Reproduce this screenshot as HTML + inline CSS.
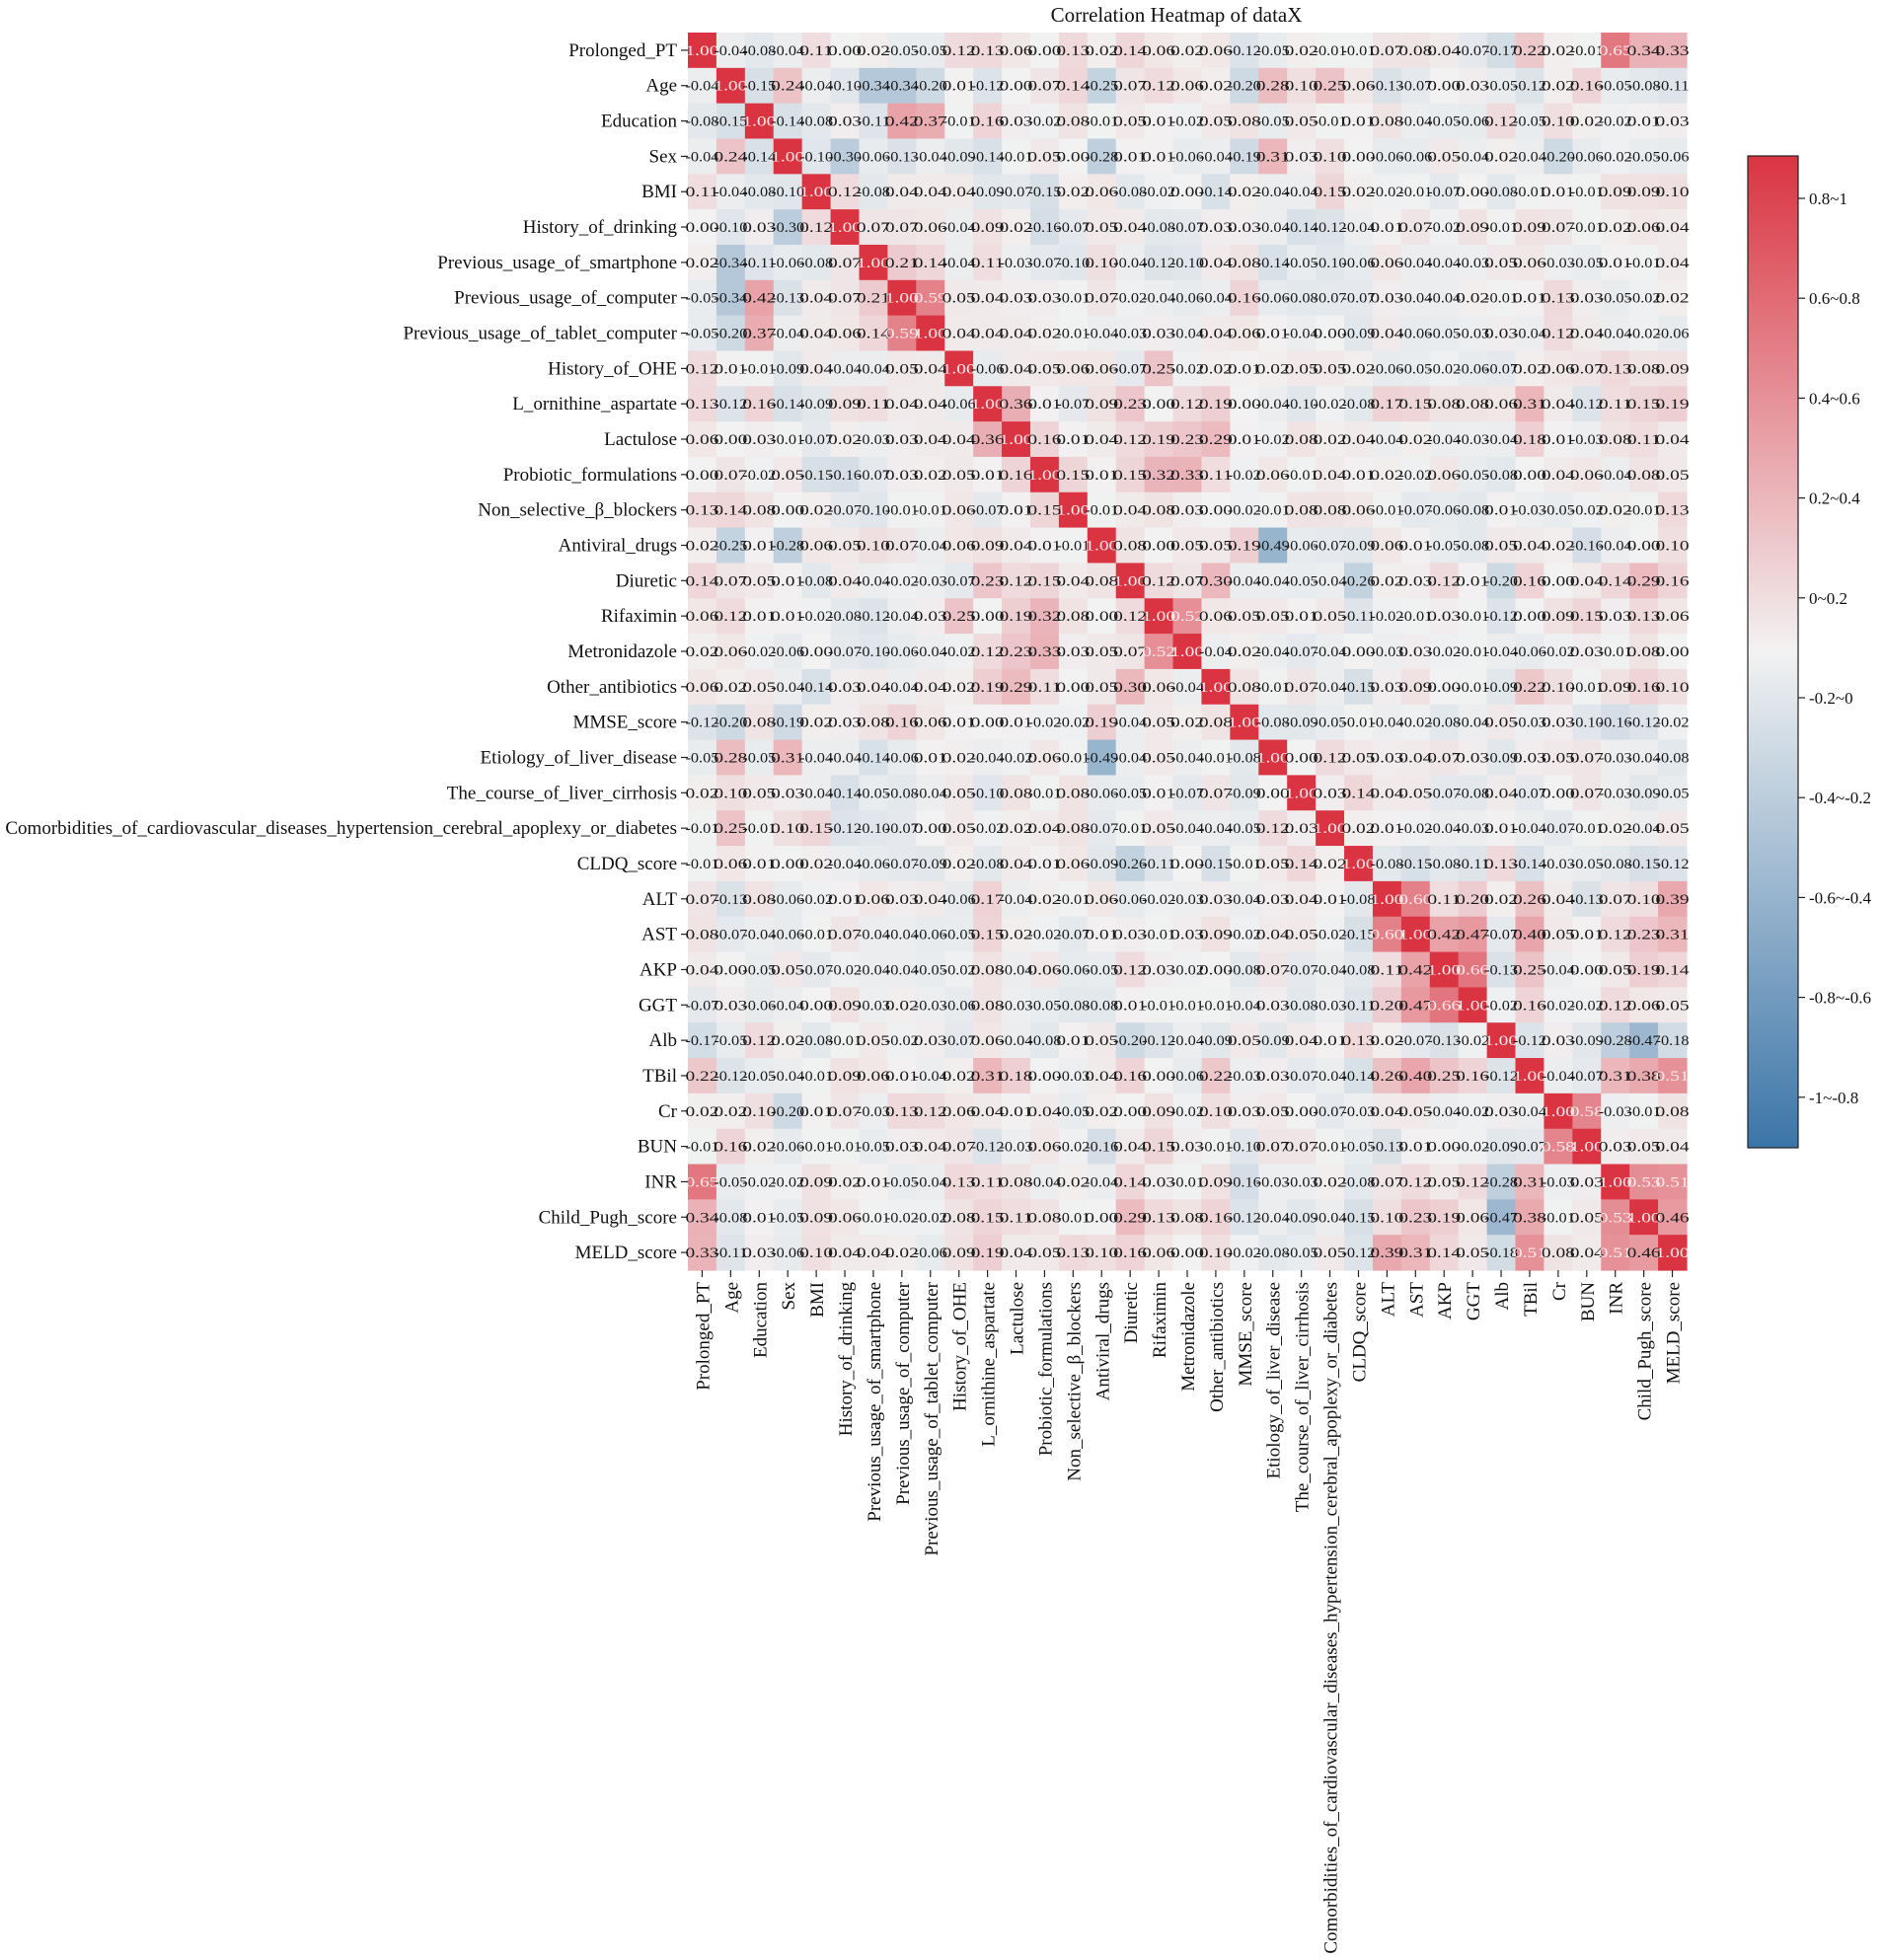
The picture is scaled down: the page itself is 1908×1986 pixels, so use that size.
<!DOCTYPE html>
<html><head><meta charset="utf-8">
<style>
html,body{margin:0;padding:0;background:#fff;}
svg{display:block;font-family:"Liberation Serif",serif;}
</style></head>
<body>
<svg id="chart" width="1908" height="1986" viewBox="0 0 1908 1986" xmlns="http://www.w3.org/2000/svg">
<defs>
<linearGradient id="cbgrad" x1="0" y1="0" x2="0" y2="1">
<stop offset="0" stop-color="rgb(218,52,66)"/>
<stop offset="0.5" stop-color="rgb(242,242,242)"/>
<stop offset="1" stop-color="rgb(59,117,168)"/>
</linearGradient>
</defs>
<text x="1192" y="22" font-size="21" text-anchor="middle" fill="#111">Correlation Heatmap of dataX</text>
<g id="cells"></g>
<g id="rowlabels"></g>
<g id="collabels"></g>
<g id="colorbar">
<rect x="1771" y="158" width="51" height="1005" fill="url(#cbgrad)" stroke="#222" stroke-width="1.2"/>
</g>
</svg>
<script>
const variables = ["Prolonged_PT","Age","Education","Sex","BMI","History_of_drinking","Previous_usage_of_smartphone","Previous_usage_of_computer","Previous_usage_of_tablet_computer","History_of_OHE","L_ornithine_aspartate","Lactulose","Probiotic_formulations","Non_selective_β_blockers","Antiviral_drugs","Diuretic","Rifaximin","Metronidazole","Other_antibiotics","MMSE_score","Etiology_of_liver_disease","The_course_of_liver_cirrhosis","Comorbidities_of_cardiovascular_diseases_hypertension_cerebral_apoplexy_or_diabetes","CLDQ_score","ALT","AST","AKP","GGT","Alb","TBil","Cr","BUN","INR","Child_Pugh_score","MELD_score"];
const colorbarTicks = ["0.8~1","0.6~0.8","0.4~0.6","0.2~0.4","0~0.2","-0.2~0","-0.4~-0.2","-0.6~-0.4","-0.8~-0.6","-1~-0.8"];
const corr = [
[1.00,-0.04,-0.08,-0.04,0.11,0.00,0.02,-0.05,-0.05,0.12,0.13,0.06,0.00,0.13,0.02,0.14,0.06,0.02,0.06,-0.12,-0.05,0.02,-0.01,-0.01,0.07,0.08,0.04,-0.07,-0.17,0.22,0.02,-0.01,0.65,0.34,0.33],
[-0.04,1.00,-0.15,0.24,-0.04,-0.10,-0.34,-0.34,-0.20,0.01,-0.12,0.00,0.07,0.14,-0.25,0.07,0.12,0.06,0.02,-0.20,0.28,0.10,0.25,0.06,-0.13,-0.07,0.00,0.03,-0.05,-0.12,0.02,0.16,-0.05,-0.08,-0.11],
[-0.08,-0.15,1.00,-0.14,-0.08,0.03,-0.11,0.42,0.37,-0.01,0.16,0.03,-0.02,0.08,-0.01,0.05,0.01,-0.02,0.05,0.08,-0.05,0.05,-0.01,0.01,0.08,-0.04,-0.05,-0.06,0.12,-0.05,0.10,0.02,-0.02,0.01,0.03],
[-0.04,0.24,-0.14,1.00,-0.10,-0.30,-0.06,-0.13,-0.04,-0.09,-0.14,-0.01,0.05,0.00,-0.28,0.01,0.01,-0.06,-0.04,-0.19,0.31,0.03,0.10,0.00,-0.06,-0.06,0.05,-0.04,0.02,-0.04,-0.20,-0.06,-0.02,-0.05,-0.06],
[0.11,-0.04,-0.08,-0.10,1.00,0.12,-0.08,0.04,0.04,0.04,-0.09,-0.07,-0.15,0.02,0.06,-0.08,-0.02,0.00,-0.14,0.02,-0.04,-0.04,0.15,0.02,-0.02,-0.01,-0.07,0.00,-0.08,-0.01,0.01,-0.01,0.09,0.09,0.10],
[0.00,-0.10,0.03,-0.30,0.12,1.00,0.07,0.07,0.06,-0.04,0.09,0.02,-0.16,-0.07,0.05,0.04,-0.08,-0.07,0.03,0.03,-0.04,-0.14,-0.12,-0.04,0.01,0.07,-0.02,0.09,-0.01,0.09,0.07,-0.01,0.02,0.06,0.04],
[0.02,-0.34,-0.11,-0.06,-0.08,0.07,1.00,0.21,0.14,-0.04,0.11,-0.03,-0.07,-0.10,0.10,-0.04,-0.12,-0.10,0.04,0.08,-0.14,-0.05,-0.10,-0.06,0.06,-0.04,-0.04,-0.03,0.05,0.06,-0.03,-0.05,0.01,-0.01,0.04],
[-0.05,-0.34,0.42,-0.13,0.04,0.07,0.21,1.00,0.59,0.05,0.04,0.03,0.03,-0.01,0.07,-0.02,-0.04,-0.06,-0.04,0.16,-0.06,-0.08,-0.07,-0.07,0.03,-0.04,-0.04,0.02,-0.01,0.01,0.13,0.03,-0.05,-0.02,0.02],
[-0.05,-0.20,0.37,-0.04,0.04,0.06,0.14,0.59,1.00,0.04,0.04,0.04,0.02,-0.01,-0.04,-0.03,0.03,-0.04,0.04,0.06,0.01,-0.04,0.00,-0.09,0.04,-0.06,-0.05,-0.03,0.03,-0.04,0.12,0.04,-0.04,-0.02,-0.06],
[0.12,0.01,-0.01,-0.09,0.04,-0.04,-0.04,0.05,0.04,1.00,-0.06,0.04,0.05,0.06,0.06,-0.07,0.25,-0.02,0.02,0.01,0.02,0.05,0.05,0.02,-0.06,-0.05,-0.02,-0.06,-0.07,0.02,0.06,0.07,0.13,0.08,0.09],
[0.13,-0.12,0.16,-0.14,-0.09,0.09,0.11,0.04,0.04,-0.06,1.00,0.36,0.01,-0.07,0.09,0.23,0.00,0.12,0.19,-0.00,-0.04,-0.10,-0.02,-0.08,0.17,0.15,0.08,0.08,0.06,0.31,0.04,-0.12,0.11,0.15,0.19],
[0.06,0.00,0.03,-0.01,-0.07,0.02,-0.03,0.03,0.04,0.04,0.36,1.00,0.16,0.01,0.04,0.12,0.19,0.23,0.29,0.01,-0.02,0.08,0.02,0.04,-0.04,0.02,-0.04,-0.03,-0.04,0.18,0.01,-0.03,0.08,0.11,0.04],
[0.00,0.07,-0.02,0.05,-0.15,-0.16,-0.07,0.03,0.02,0.05,0.01,0.16,1.00,0.15,0.01,0.15,0.32,0.33,0.11,-0.02,0.06,-0.01,0.04,0.01,0.02,-0.02,0.06,-0.05,-0.08,0.00,0.04,0.06,-0.04,0.08,0.05],
[0.13,0.14,0.08,0.00,0.02,-0.07,-0.10,-0.01,-0.01,0.06,-0.07,0.01,0.15,1.00,-0.01,0.04,0.08,0.03,0.00,-0.02,-0.01,0.08,0.08,0.06,-0.01,-0.07,-0.06,-0.08,0.01,-0.03,-0.05,-0.02,0.02,-0.01,0.13],
[0.02,-0.25,0.01,-0.28,0.06,0.05,0.10,0.07,-0.04,0.06,0.09,0.04,0.01,-0.01,1.00,0.08,-0.00,0.05,0.05,0.19,-0.49,-0.06,-0.07,-0.09,0.06,0.01,-0.05,-0.08,0.05,0.04,0.02,-0.16,-0.04,0.00,0.10],
[0.14,0.07,0.05,0.01,-0.08,0.04,-0.04,-0.02,-0.03,-0.07,0.23,0.12,0.15,0.04,0.08,1.00,0.12,0.07,0.30,-0.04,-0.04,-0.05,-0.04,-0.26,0.02,0.03,0.12,0.01,-0.20,0.16,0.00,0.04,0.14,0.29,0.16],
[0.06,0.12,0.01,0.01,-0.02,-0.08,-0.12,-0.04,0.03,0.25,0.00,0.19,0.32,0.08,-0.00,0.12,1.00,0.52,0.06,0.05,0.05,0.01,0.05,-0.11,-0.02,-0.01,0.03,-0.01,-0.12,0.00,0.09,0.15,0.03,0.13,0.06],
[0.02,0.06,-0.02,-0.06,0.00,-0.07,-0.10,-0.06,-0.04,-0.02,0.12,0.23,0.33,0.03,0.05,0.07,0.52,1.00,-0.04,0.02,-0.04,-0.07,-0.04,0.00,-0.03,0.03,-0.02,-0.01,-0.04,-0.06,-0.02,0.03,-0.01,0.08,0.00],
[0.06,0.02,0.05,-0.04,-0.14,0.03,0.04,-0.04,0.04,0.02,0.19,0.29,0.11,0.00,0.05,0.30,0.06,-0.04,1.00,0.08,-0.01,0.07,-0.04,-0.15,0.03,0.09,0.00,-0.01,-0.09,0.22,0.10,-0.01,0.09,0.16,0.10],
[-0.12,-0.20,0.08,-0.19,0.02,0.03,0.08,0.16,0.06,0.01,-0.00,0.01,-0.02,-0.02,0.19,-0.04,0.05,0.02,0.08,1.00,-0.08,-0.09,-0.05,-0.01,-0.04,-0.02,-0.08,-0.04,0.05,-0.03,0.03,-0.10,-0.16,-0.12,-0.02],
[-0.05,0.28,-0.05,0.31,-0.04,-0.04,-0.14,-0.06,0.01,0.02,-0.04,-0.02,0.06,-0.01,-0.49,-0.04,0.05,-0.04,-0.01,-0.08,1.00,-0.00,0.12,0.05,0.03,0.04,0.07,0.03,-0.09,0.03,0.05,0.07,-0.03,-0.04,-0.08],
[0.02,0.10,0.05,0.03,-0.04,-0.14,-0.05,-0.08,-0.04,0.05,-0.10,0.08,-0.01,0.08,-0.06,-0.05,0.01,-0.07,0.07,-0.09,-0.00,1.00,0.03,0.14,0.04,0.05,-0.07,-0.08,0.04,-0.07,0.00,0.07,-0.03,-0.09,-0.05],
[-0.01,0.25,-0.01,0.10,0.15,-0.12,-0.10,-0.07,0.00,0.05,-0.02,0.02,0.04,0.08,-0.07,-0.01,0.05,-0.04,-0.04,-0.05,0.12,0.03,1.00,0.02,0.01,-0.02,-0.04,-0.03,0.01,-0.04,-0.07,-0.01,0.02,-0.04,0.05],
[-0.01,0.06,0.01,0.00,0.02,-0.04,-0.06,-0.07,-0.09,0.02,-0.08,0.04,0.01,0.06,-0.09,-0.26,-0.11,0.00,-0.15,-0.01,0.05,0.14,0.02,1.00,-0.08,-0.15,-0.08,-0.11,0.13,-0.14,-0.03,-0.05,-0.08,-0.15,-0.12],
[0.07,-0.13,0.08,-0.06,-0.02,0.01,0.06,0.03,0.04,-0.06,0.17,-0.04,0.02,-0.01,0.06,-0.06,-0.02,-0.03,0.03,-0.04,0.03,0.04,0.01,-0.08,1.00,0.60,0.11,0.20,0.02,0.26,0.04,-0.13,0.07,0.10,0.39],
[0.08,-0.07,-0.04,-0.06,-0.01,0.07,-0.04,-0.04,-0.06,-0.05,0.15,0.02,-0.02,-0.07,0.01,0.03,-0.01,0.03,0.09,-0.02,0.04,0.05,-0.02,-0.15,0.60,1.00,0.42,0.47,-0.07,0.40,0.05,0.01,0.12,0.23,0.31],
[0.04,0.00,-0.05,0.05,-0.07,-0.02,-0.04,-0.04,-0.05,-0.02,0.08,-0.04,0.06,-0.06,-0.05,0.12,0.03,-0.02,0.00,-0.08,0.07,-0.07,-0.04,-0.08,0.11,0.42,1.00,0.66,-0.13,0.25,-0.04,0.00,0.05,0.19,0.14],
[-0.07,0.03,-0.06,-0.04,0.00,0.09,-0.03,0.02,-0.03,-0.06,0.08,-0.03,-0.05,-0.08,-0.08,0.01,-0.01,-0.01,-0.01,-0.04,0.03,-0.08,-0.03,-0.11,0.20,0.47,0.66,1.00,-0.02,0.16,-0.02,-0.02,0.12,0.06,0.05],
[-0.17,-0.05,0.12,0.02,-0.08,-0.01,0.05,-0.02,0.03,-0.07,0.06,-0.04,-0.08,0.01,0.05,-0.20,-0.12,-0.04,-0.09,0.05,-0.09,0.04,0.01,0.13,0.02,-0.07,-0.13,-0.02,1.00,-0.12,0.03,-0.09,-0.28,-0.47,-0.18],
[0.22,-0.12,-0.05,-0.04,-0.01,0.09,0.06,0.01,-0.04,0.02,0.31,0.18,0.00,-0.03,0.04,0.16,0.00,-0.06,0.22,-0.03,0.03,-0.07,-0.04,-0.14,0.26,0.40,0.25,0.16,-0.12,1.00,-0.04,-0.07,0.31,0.38,0.51],
[0.02,0.02,0.10,-0.20,0.01,0.07,-0.03,0.13,0.12,0.06,0.04,0.01,0.04,-0.05,0.02,0.00,0.09,-0.02,0.10,0.03,0.05,0.00,-0.07,-0.03,0.04,0.05,-0.04,-0.02,0.03,-0.04,1.00,0.58,-0.03,-0.01,0.08],
[-0.01,0.16,0.02,-0.06,-0.01,-0.01,-0.05,0.03,0.04,0.07,-0.12,-0.03,0.06,-0.02,-0.16,0.04,0.15,0.03,-0.01,-0.10,0.07,0.07,-0.01,-0.05,-0.13,0.01,0.00,-0.02,-0.09,-0.07,0.58,1.00,0.03,0.05,0.04],
[0.65,-0.05,-0.02,-0.02,0.09,0.02,0.01,-0.05,-0.04,0.13,0.11,0.08,-0.04,0.02,-0.04,0.14,0.03,-0.01,0.09,-0.16,-0.03,-0.03,0.02,-0.08,0.07,0.12,0.05,0.12,-0.28,0.31,-0.03,0.03,1.00,0.53,0.51],
[0.34,-0.08,0.01,-0.05,0.09,0.06,-0.01,-0.02,-0.02,0.08,0.15,0.11,0.08,-0.01,0.00,0.29,0.13,0.08,0.16,-0.12,-0.04,-0.09,-0.04,-0.15,0.10,0.23,0.19,0.06,-0.47,0.38,-0.01,0.05,0.53,1.00,0.46],
[0.33,-0.11,0.03,-0.06,0.10,0.04,0.04,0.02,-0.06,0.09,0.19,0.04,0.05,0.13,0.10,0.16,0.06,0.00,0.10,-0.02,-0.08,-0.05,0.05,-0.12,0.39,0.31,0.14,0.05,-0.18,0.51,0.08,0.04,0.51,0.46,1.00]
];

const NS = "http://www.w3.org/2000/svg";
const L = 697, T = 33, R = 1709, B = 1287;
const n = variables.length;
const cw = (R - L) / n, ch = (B - T) / n;
function xScale(i){ return L + i * cw; }
function yScale(i){ return T + i * ch; }
const NEG = [59,117,168], MID = [242,242,242], POS = [218,52,66];
function colorFor(v){
  let t = Math.max(-1, Math.min(1, v));
  const a = t >= 0 ? POS : NEG;
  const f = Math.abs(t);
  const c = MID.map((m,k)=>Math.round(m + (a[k]-m)*f));
  return "rgb(" + c.join(",") + ")";
}
function fmt(v){ return v.toFixed(2); }
function mk(tag, attrs){ const e = document.createElementNS(NS, tag); for (const k in attrs) e.setAttribute(k, attrs[k]); return e; }

const cells = document.getElementById("cells");
for (let r = 0; r < n; r++){
  for (let c = 0; c < n; c++){
    const v = corr[r][c];
    const rect = mk("rect", {x: xScale(c), y: yScale(r), width: cw + 0.6, height: ch + 0.6, fill: colorFor(v)});
    
    
    cells.appendChild(rect);
  }
}
for (let r = 0; r < n; r++){
  for (let c = 0; c < n; c++){
    const v = corr[r][c];
    const t = mk("text", {x: xScale(c) + cw/2, y: yScale(r) + ch/2 + 5, "font-size": 15, "text-anchor": "middle", fill: v > 0.5 ? "#fbe9ea" : "#1a1a1a", textLength: 34, lengthAdjust: "spacingAndGlyphs"});
    t.textContent = fmt(v);
    
    
    cells.appendChild(t);
  }
}
const rl = document.getElementById("rowlabels");
const cl = document.getElementById("collabels");
for (let i = 0; i < n; i++){
  const cy = yScale(i) + ch/2;
  const tk = mk("line", {x1: L - 7, x2: L, y1: cy, y2: cy, stroke: "#222", "stroke-width": 1.2});
  
  
  rl.appendChild(tk);
  const t = mk("text", {x: L - 11, y: cy + 6, "font-size": 19, "text-anchor": "end", fill: "#111"});
  t.textContent = variables[i];
  
  
  rl.appendChild(t);
  const cx = xScale(i) + cw/2;
  const tk2 = mk("line", {x1: cx, x2: cx, y1: B, y2: B + 7, stroke: "#222", "stroke-width": 1.2});
  
  
  cl.appendChild(tk2);
  const t2 = mk("text", {x: 0, y: 0, "font-size": 19, "text-anchor": "end", fill: "#111", transform: "translate(" + (cx + 7) + "," + (B + 12) + ") rotate(-90)"});
  t2.textContent = variables[i];
  
  
  cl.appendChild(t2);
}
const cb = document.getElementById("colorbar");
for (let i = 0; i < colorbarTicks.length; i++){
  const y = 201 + i * 101.2;
  const tk = mk("line", {x1: 1822, x2: 1829, y1: y, y2: y, stroke: "#222", "stroke-width": 1.2});
  
  
  cb.appendChild(tk);
  const t = mk("text", {x: 1833, y: y + 6, "font-size": 17, fill: "#111"});
  t.textContent = colorbarTicks[i];
  
  
  cb.appendChild(t);
}
</script>
</body></html>
